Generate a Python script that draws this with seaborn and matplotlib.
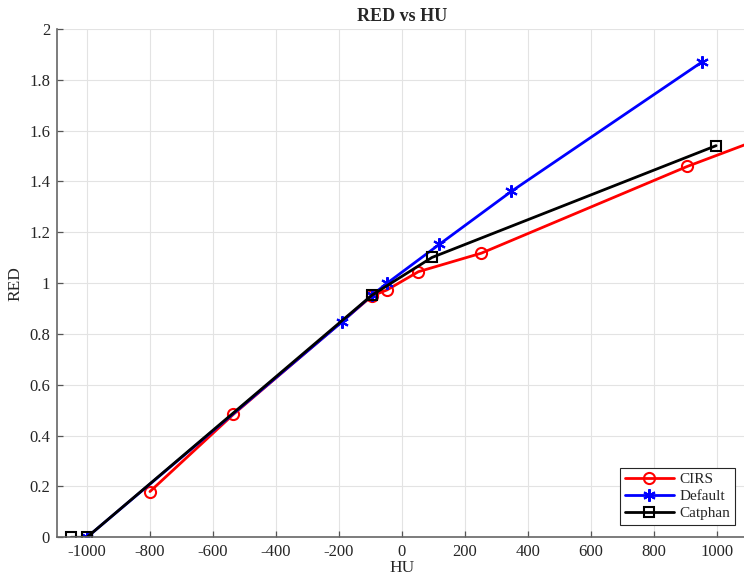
import numpy as np
import pandas as pd
import seaborn as sns
import matplotlib.pyplot as plt

# values
cirs_hu = [-800, -535, -95, -48, 52, 252, 905, 1250]
cirs_red = [0.18, 0.484, 0.95, 0.973, 1.045, 1.118, 1.459, 1.62]

default_hu = [-1000, -190, -94, -47, 119, 347, 953]
default_red = [0.0, 0.848, 0.954, 1.0, 1.153, 1.361, 1.871]

catphan_hu = [-1050, -1000, -95, 95, 997]
catphan_red = [0.0, 0.0, 0.953, 1.101, 1.541]

xticks = np.arange(-1000, 1001, 200)
yticks = np.arange(0, 2.01, 0.2)

sns.set_style("whitegrid", {"xtick.bottom": True, "ytick.left": True})
plt.rcParams['font.family'] = ['Liberation Serif', 'DejaVu Serif']
plt.rcParams['xtick.major.size'] = 4
plt.rcParams['ytick.major.size'] = 4

fig = plt.figure(figsize=(7.44, 5.78), dpi=100)
ax = fig.add_axes([57 / 744, 1 - 537.3 / 578, 1 - 57 / 744 + 0.004, 508.3 / 578])

series = [
    ("CIRS", cirs_hu, cirs_red, "red", "o", 8),
    ("Default", default_hu, default_red, "blue", (6, 2, 0), 9),
    ("Catphan", catphan_hu, catphan_red, "black", "s", 6.5),
]
for name, hu, red, col, mk, ms in series:
    df = pd.DataFrame({"HU": hu, "RED": red})
    sns.lineplot(data=df, x="HU", y="RED", ax=ax, color=col, marker=mk,
                 markersize=ms, markerfacecolor="none",
                 markeredgecolor=col, markeredgewidth=1.5, linewidth=2,
                 label=name, sort=False)

ax.set_xlim(-1095, 1095)
ax.set_ylim(0, 2)
ax.set_xticks(xticks)
ax.set_xticklabels([str(int(v)) for v in xticks])
ax.set_yticks(yticks)
ax.set_yticklabels(["%g" % round(v, 1) for v in yticks])

ax.grid(True, color="#e3e3e3", linewidth=0.8)
for s in ["top", "right"]:
    ax.spines[s].set_visible(False)
for s in ["left", "bottom"]:
    ax.spines[s].set_color("#666666")
    ax.spines[s].set_linewidth(1.2)
ax.tick_params(direction="in", length=4, width=0.9, color="#555555",
               labelsize=12, labelcolor="#262626", pad=5,
               bottom=True, left=True)

ax.set_xlabel("HU", fontsize=12.5, color="#262626", labelpad=0)
ax.set_ylabel("RED", fontsize=12.5, color="#262626", labelpad=4)
ax.set_title("RED vs HU", fontsize=13, fontweight="bold", pad=6)

leg = ax.legend(loc="lower right", bbox_to_anchor=(0.994, 0.01), fontsize=11,
                frameon=True, fancybox=False, edgecolor="#262626",
                framealpha=1, handlelength=3.2, borderpad=0.3,
                labelspacing=0.2, handletextpad=0.4)
leg.get_frame().set_linewidth(0.8)

fig.savefig("out.png", dpi=100)
